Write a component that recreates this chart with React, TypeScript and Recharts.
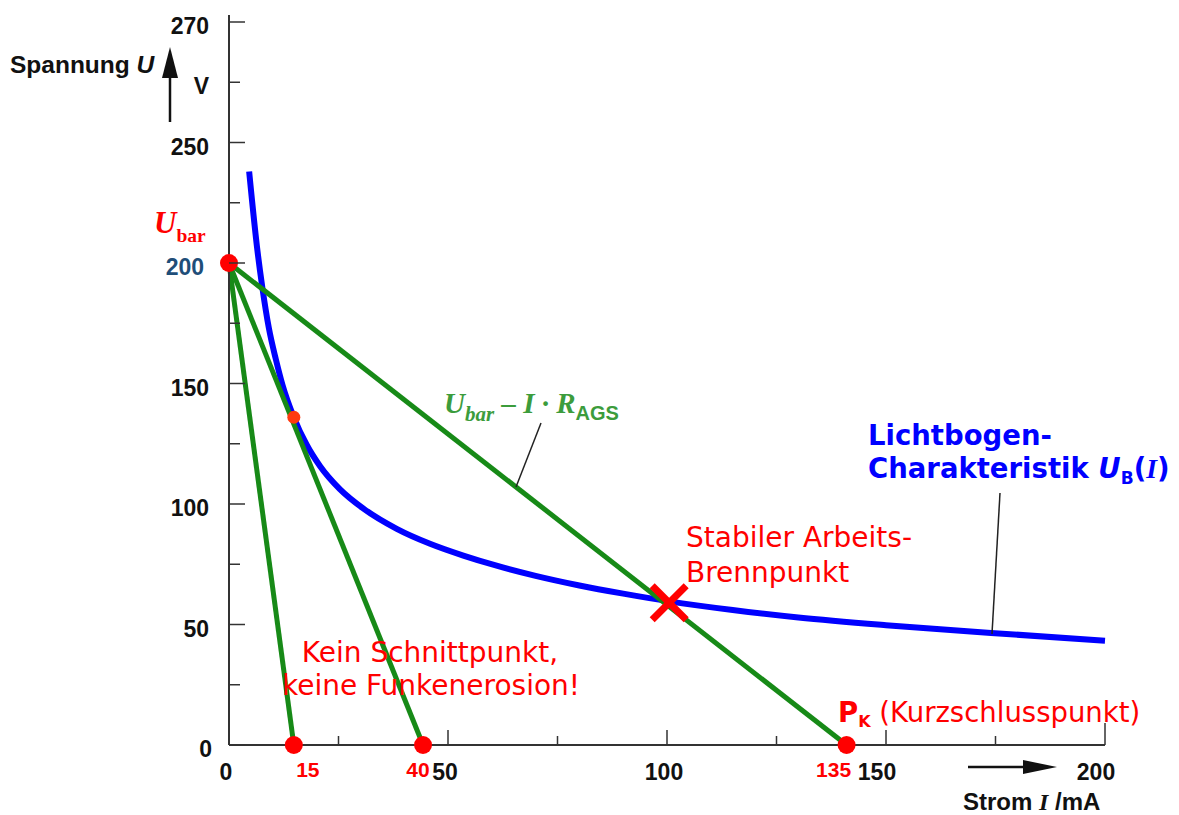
import React from 'react';
import { ComposedChart, Line, Scatter, XAxis, YAxis } from 'recharts';

// Betriebsspannung und Kurzschlussströme der Arbeitsgeraden (mA)
const ubar = 200;
const shortCircuitCurrents = [14.8, 44.3, 141];
const shortCircuitLabels = ['15', '40', '135'];

// Lichtbogen-Kennlinie U_B(I)
const arcCurrent = [4.6, 6.5, 7.6, 9.1, 10.7, 12.2, 14.8, 17.7, 20.8, 25.3, 30.7, 38.3, 45.9, 53.5, 61.1, 70, 80, 90, 100.5, 115, 130, 150, 174, 200];
const arcVoltage = [238, 205, 190, 173, 160, 149.5, 136, 124.7, 115.7, 106.2, 98.1, 89.7, 83.5, 78.6, 74.4, 70.2, 66.2, 62.8, 59.6, 56, 52.9, 49.7, 46.5, 43.3];

const workingPoint = [{ i: 100.5, u: 59 }];
const touchPoint = [{ i: 14.8, u: 136 }];

const xTicks = [0, 25, 50, 75, 100, 125, 150, 175, 200];
const xTickLabels: Record<number, string> = { 0: '0', 50: '50', 100: '100', 150: '150', 200: '200' };
const yTicks = [0, 25, 50, 75, 100, 125, 150, 175, 200, 225, 250, 275, 300];
const yTickLabels: Record<number, string> = { 0: '0', 50: '50', 100: '100', 150: '150', 200: '200', 250: '250', 275: 'V', 300: '270' };

const arcData = arcCurrent.map((i, k) => ({ i, u: arcVoltage[k] }));
const loadLines = shortCircuitCurrents.map((c) => [{ i: 0, u: ubar }, { i: c, u: 0 }]);
const redDots = [
  { i: 0, u: ubar, label: '' },
  ...shortCircuitCurrents.map((c, k) => ({ i: c, u: 0, label: shortCircuitLabels[k] })),
];
const labelShift: Record<string, number> = { '15': 14, '40': -5, '135': -13 };

const GREEN = '#178a17';
const RED = '#ff0000';
const AXIS = '#333';
const SANS = '"Liberation Sans", Arial, sans-serif';
const VERD = '"DejaVu Sans", Verdana, sans-serif';
const SERIF = '"Liberation Serif", "Times New Roman", serif';

const YTick = (props: any) => {
  const { x, y, payload } = props;
  const v = payload.value as number;
  const major = v % 50 === 0;
  const label = yTickLabels[v];
  return (
    <g>
      <line x1={x} x2={x + (major ? 16 : 11)} y1={y} y2={y} stroke={AXIS} strokeWidth={1.5} />
      {label && (
        <text
          x={x - (v === 200 ? 25 : v === 0 ? 17 : 20)}
          y={y + 12}
          textAnchor="end"
          fontFamily={SANS}
          fontWeight="bold"
          fontSize={23}
          fill={v === 200 ? '#1f4e79' : '#111'}
        >
          {label}
        </text>
      )}
    </g>
  );
};

const XTick = (props: any) => {
  const { x, y, payload } = props;
  const v = payload.value as number;
  const major = v % 50 === 0;
  const label = xTickLabels[v];
  return (
    <g>
      {v > 0 && <line x1={x} x2={x} y1={y} y2={y - (v === 200 ? 22 : major ? 15 : 9)} stroke={AXIS} strokeWidth={1.5} />}
      {label && (
        <text x={x - (v >= 150 ? 9 : 3)} y={y + 35} textAnchor="middle" fontFamily={SANS} fontWeight="bold" fontSize={23} fill="#111">
          {label}
        </text>
      )}
    </g>
  );
};

const RedDot = (props: any) => {
  const { cx, cy, payload } = props;
  const lab = payload?.label as string;
  return (
    <g>
      <circle cx={cx} cy={cy} r={9} fill={RED} />
      {lab && (
        <text x={cx + (labelShift[lab] || 0)} y={cy + 32} textAnchor="middle" fontFamily={SANS} fontWeight="bold" fontSize={21} fill={RED}>
          {lab}
        </text>
      )}
    </g>
  );
};

const TouchDot = (props: any) => <circle cx={props.cx} cy={props.cy} r={6.5} fill="#ff3a10" />;

const Cross = (props: any) => {
  const { cx, cy } = props;
  const s = 17;
  return (
    <g stroke={RED} strokeWidth={7}>
      <line x1={cx - s} y1={cy - s} x2={cx + s} y2={cy + s} />
      <line x1={cx - s} y1={cy + s} x2={cx + s} y2={cy - s} />
    </g>
  );
};

export default function App() {
  return (
    <div style={{ position: 'absolute', left: 0, top: 0, width: 1179, height: 815, background: '#fff' }}>
      <ComposedChart width={1179} height={815} margin={{ top: 22, right: 74, bottom: 30, left: 169 }}>
        <XAxis
          type="number"
          dataKey="i"
          domain={[0, 200]}
          ticks={xTicks}
          interval={0}
          tickSize={0}
          tickMargin={0}
          tickLine={false}
          height={40}
          axisLine={{ stroke: AXIS, strokeWidth: 2 }}
          tick={<XTick />}
        />
        <YAxis
          type="number"
          dataKey="u"
          domain={[0, 300]}
          ticks={yTicks}
          interval={0}
          tickSize={0}
          tickMargin={0}
          tickLine={false}
          width={60}
          axisLine={{ stroke: AXIS, strokeWidth: 2 }}
          tick={<YTick />}
        />
        <Line data={arcData} dataKey="u" type="monotone" stroke="#0000ff" strokeWidth={6} dot={false} activeDot={false} isAnimationActive={false} />
        {loadLines.map((d, k) => (
          <Line key={k} data={d} dataKey="u" type="linear" stroke={GREEN} strokeWidth={5} dot={false} activeDot={false} isAnimationActive={false} />
        ))}
        <Scatter data={touchPoint} dataKey="u" shape={<TouchDot />} isAnimationActive={false} />
        <Scatter data={redDots} dataKey="u" shape={<RedDot />} isAnimationActive={false} />
        <Scatter data={workingPoint} dataKey="u" shape={<Cross />} isAnimationActive={false} />
      </ComposedChart>

      <svg width={1179} height={815} style={{ position: 'absolute', left: 0, top: 0, pointerEvents: 'none' }}>
        {/* Achsenende oben */}
        <line x1={229} y1={15} x2={229} y2={23} stroke={AXIS} strokeWidth={2} />

        {/* Achsenbeschriftung U */}
        <text x={10} y={73} fontFamily={SANS} fontWeight="bold" fontSize={24.5} fill="#111">
          Spannung <tspan fontStyle="italic">U</tspan>
        </text>
        <line x1={170} y1={122} x2={170} y2={72} stroke="#111" strokeWidth={2.5} />
        <polygon points="170,47 162,78 178,78" fill="#111" />

        {/* Achsenbeschriftung I */}
        <text x={963} y={810} fontFamily={SANS} fontWeight="bold" fontSize={24} fill="#111">
          Strom <tspan fontFamily={SERIF} fontStyle="italic">I</tspan> /mA
        </text>
        <line x1={968} y1={767} x2={1030} y2={767} stroke="#111" strokeWidth={2.5} />
        <polygon points="1057,767 1023,760 1023,774" fill="#111" />

        {/* U_bar */}
        <text x={154} y={233} fontFamily={SERIF} fontWeight="bold" fill={RED}>
          <tspan fontStyle="italic" fontSize={31}>U</tspan>
          <tspan fontSize={19.5} dy={9}>bar</tspan>
        </text>

        {/* Arbeitsgerade */}
        <text x={444} y={413} fontFamily={SERIF} fontWeight="bold" fontStyle="italic" fill="#3c9c3c">
          <tspan fontSize={29}>U</tspan>
          <tspan fontSize={21} dy={8}>bar</tspan>
          <tspan fontSize={29} dy={-8}> – I · R</tspan>
          <tspan fontSize={20} dy={7} fontFamily={SANS} fontStyle="normal">AGS</tspan>
        </text>
        <line x1={516} y1={487} x2={541} y2={423} stroke="#222" strokeWidth={1.5} />

        {/* Lichtbogen-Kennlinie */}
        <text x={868} y={445} fontFamily={VERD} fontWeight="bold" fontSize={27.5} fill="#0000ff">
          Lichtbogen-
        </text>
        <text x={868} y={478} fontFamily={VERD} fontWeight="bold" fontSize={27.5} fill="#0000ff">
          Charakteristik <tspan fontStyle="italic">U</tspan>
          <tspan fontSize={17} dy={6}>B</tspan>
          <tspan dy={-6}>(</tspan>
          <tspan fontFamily={SERIF} fontStyle="italic">I</tspan>
          <tspan>)</tspan>
        </text>
        <line x1={992} y1={634} x2={1000} y2={493} stroke="#222" strokeWidth={1.5} />

        {/* Arbeitspunkt */}
        <text x={686} y={547} fontFamily={VERD} fontSize={28} fill={RED}>
          Stabiler Arbeits-
        </text>
        <text x={686} y={582} fontFamily={VERD} fontSize={28} fill={RED}>
          Brennpunkt
        </text>

        <text x={430} y={662} textAnchor="middle" fontFamily={VERD} fontSize={28} fill={RED}>
          Kein Schnittpunkt,
        </text>
        <text x={431} y={695} textAnchor="middle" fontFamily={VERD} fontSize={28} fill={RED}>
          keine Funkenerosion!
        </text>

        <text x={838} y={722} fontFamily={VERD} fontSize={27.5} fill={RED}>
          <tspan fontWeight="bold">P</tspan>
          <tspan fontWeight="bold" fontSize={16} dy={5}>K</tspan>
          <tspan dy={-5}> (Kurzschlusspunkt)</tspan>
        </text>
      </svg>
    </div>
  );
}
